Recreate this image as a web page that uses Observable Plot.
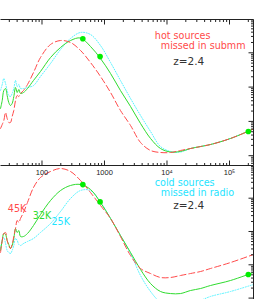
<!DOCTYPE html>
<html><head><meta charset="utf-8">
<script src="https://cdn.jsdelivr.net/npm/d3@7"></script>
<script src="https://cdn.jsdelivr.net/npm/@observablehq/plot@0.6"></script>
<style>
html,body{margin:0;padding:0;background:#fff;}
#wrap{position:relative;width:272px;height:299px;overflow:hidden;background:#fff;}
#wrap svg{position:absolute;left:0;}
</style></head><body><div id="wrap"></div>
<script>
// observed wavelength (micron)
const wavelength = [21.7, 23.1, 24.5, 26.1, 27.7, 29.4, 31.3, 33.3, 35.4, 37.7, 40.1, 42.6, 45.3, 50.6, 58.6, 73.1, 94.6, 137, 198, 286, 413, 597, 863, 1250, 1800, 2610, 3770, 5450, 7870, 11400, 16400, 23800, 34400, 49700, 104000, 242000];
// top panel: flux density (mJy)
const topHot45 = [0.0621, 0.0813, 0.106, 0.182, 0.122, 0.0929, 0.0929, 0.139, 0.208, 0.407, 0.569, 0.532, 0.651, 0.796, 1.19, 2.66, 7.29, 17.5, 22.8, 20.0, 11.7, 5.21, 2.04, 0.696, 0.208, 0.0760, 0.0243, 0.0142, 0.0124, 0.0124, 0.0142, 0.0162, 0.0185, 0.0212, 0.0318, 0.0601];
const topMid32 = [0.238, 0.407, 0.796, 0.910, 0.569, 0.356, 0.291, 0.333, 0.532, 0.973, 0.696, 0.851, 0.651, 0.696, 0.910, 1.56, 2.85, 7.29, 14.3, 22.8, 27.0, 15.3, 6.82, 2.49, 0.796, 0.272, 0.0869, 0.0318, 0.0162, 0.0128, 0.0133, 0.0162, 0.0185, 0.0212, 0.0318, 0.0601];
const topCold25 = [0.796, 1.19, 1.78, 1.27, 0.796, 0.569, 0.532, 0.651, 0.910, 1.56, 1.04, 1.19, 0.910, 0.910, 0.973, 1.11, 2.04, 4.88, 12.5, 26.1, 39.1, 34.1, 16.3, 5.21, 1.56, 0.465, 0.149, 0.0508, 0.0185, 0.0133, 0.0128, 0.0162, 0.0185, 0.0212, 0.0318, 0.0601];
// bottom panel: flux density (mJy)
const botHot45 = [0.234, 0.537, 0.871, 0.933, 0.537, 0.380, 0.309, 0.407, 0.708, 1.23, 2.14, 1.86, 2.46, 3.72, 7.43, 20.9, 41.8, 63.4, 78.0, 63.4, 34.0, 14.8, 6.04, 2.46, 0.708, 0.190, 0.0774, 0.0548, 0.0416, 0.0416, 0.0477, 0.0548, 0.0629, 0.0774, 0.117, 0.204];
const botMid32 = [0.269, 0.537, 0.871, 0.813, 0.537, 0.407, 0.309, 0.380, 0.617, 1.23, 0.933, 1.07, 0.708, 0.708, 0.871, 1.51, 3.24, 8.53, 17.0, 24.1, 25.8, 18.3, 7.43, 2.46, 0.759, 0.234, 0.0722, 0.0274, 0.0158, 0.0137, 0.0137, 0.0169, 0.0194, 0.0239, 0.0338, 0.0587];
const botCold25 = [0.309, 0.537, 0.661, 0.436, 0.269, 0.234, 0.218, 0.269, 0.380, 0.617, 0.537, 0.407, 0.380, 0.436, 0.501, 0.617, 0.933, 1.74, 3.99, 9.79, 17.0, 17.0, 7.6, 2.46, 0.759, 0.218, 0.0477, 0.0158, 0.00738, 0.00522, 0.00522, 0.00643, 0.00847, 0.0112, 0.0158, 0.0256];
// observed photometry (450um, 850um, 20cm)
const obsLambda = [450, 850, 200000];
const obsFlux = [25.6, 7.75, 0.051];
// axis ticks
const xTickValues = [100, 1000, 10000, 100000];
const xTickLabels = ["100", "1000", "10⁴", "10⁵"];
const yDecades = [0.001, 0.01, 0.1, 1, 10, 100];
// annotations
const topNoteText = ["hot sources", "missed in submm", "z=2.4"];
const topNoteLambda = [6380, 7960, 12600];
const topNoteFlux = [30.5, 15.6, 5.57];
const botNoteText = ["cold sources", "missed in radio", "z=2.4", "45K", "32K", "25K"];
const botNoteLambda = [6380, 7960, 12600, 28.4, 71.3, 142];
const botNoteFlux = [29.0, 14.5, 6.04, 4.81, 3.02, 2.0];

const RED = "#ff4a4a", GREEN = "#2fdc2f", CYAN = "#55f4ff", CYANTXT = "#1ee4ff", INK = "#222";
const topNoteColor = [RED, RED, "#333"];
const botNoteColor = [CYANTXT, CYANTXT, "#333", RED, GREEN, CYANTXT];

const xDomain = [21.68, 242100];
const XR = 253;

function ticksIn(domain, decades) {
  const major = [], minor = [];
  for (const d of decades) for (let k = 1; k <= 9; k++) {
    const v = d * k;
    if (v >= domain[0] && v <= domain[1]) (k === 1 ? major : minor).push(v);
  }
  return {major, minor};
}

function makePanel(o) {
  const [x0, x1] = xDomain, [y0, y1] = o.yDomain;
  const plotH = o.height - o.marginTop - o.marginBottom;
  const fy = Math.pow(y1 / y0, 1 / plotH);
  const fx = Math.pow(x1 / x0, 1 / XR);
  const segs = [];
  segs.push({x1: x1, y1: y1, x2: x1, y2: y0});
  const xt = ticksIn(xDomain, [10, 100, 1000, 1e4, 1e5]);
  const yt = ticksIn(o.yDomain, yDecades);
  if (o.frameTop) {
    segs.push({x1: x0, y1: y1, x2: x1, y2: y1});
    for (const t of xt.major) segs.push({x1: t, y1: y1, x2: t, y2: y1 / Math.pow(fy, 5)});
    for (const t of xt.minor) segs.push({x1: t, y1: y1, x2: t, y2: y1 / Math.pow(fy, 2.5)});
  }
  if (o.frameBottom) {
    segs.push({x1: x0, y1: y0, x2: x1, y2: y0});
    for (const t of xt.major) segs.push({x1: t, y1: y0, x2: t, y2: y0 * Math.pow(fy, 5)});
    for (const t of xt.minor) segs.push({x1: t, y1: y0, x2: t, y2: y0 * Math.pow(fy, 2.5)});
  }
  for (const t of yt.major) segs.push({x1: x1, y1: t, x2: x1 / Math.pow(fx, 5), y2: t});
  for (const t of yt.minor) segs.push({x1: x1, y1: t, x2: x1 / Math.pow(fx, 2.5), y2: t});

  const rows = wavelength.map((w, i) => ({w, hot: o.hot[i], mid: o.mid[i], cold: o.cold[i]}));
  const dots = obsLambda.map((w, i) => ({w, f: obsFlux[i]}));
  const notes = o.noteText.map((t, i) => ({t, w: o.noteLambda[i], f: o.noteFlux[i], c: o.noteColor[i]}));
  const marks = [
    Plot.line(rows, {x: "w", y: "cold", stroke: CYAN, strokeWidth: 1, strokeDasharray: "1,1.6", curve: "catmull-rom"}),
    Plot.line(rows, {x: "w", y: "mid", stroke: GREEN, strokeWidth: 1, curve: "catmull-rom"}),
    Plot.line(rows, {x: "w", y: "hot", stroke: RED, strokeWidth: 1, strokeDasharray: "6,3", curve: "catmull-rom"}),
    Plot.link(segs, {x1: "x1", y1: "y1", x2: "x2", y2: "y2", stroke: INK, strokeWidth: 1}),
    Plot.dot(dots, {x: "w", y: "f", r: 2.8, fill: "#00ee00", stroke: "none"}),
    Plot.text(notes.filter(d => d.t.startsWith("z")), {x: "w", y: "f", text: "t", fill: "c", textAnchor: "start", fontSize: 10.5, fontFamily: "DejaVu Sans"}),
    Plot.text(notes.filter(d => !d.t.startsWith("z")), {x: "w", y: "f", text: "t", fill: "c", textAnchor: "start", fontSize: 9.6, fontFamily: "DejaVu Sans"})
  ];
  if (o.tickLabels) {
    const lab = xTickValues.map((v, i) => ({v, y: y1, s: xTickLabels[i]}));
    marks.push(Plot.text(lab, {x: "v", y: "y", text: "s", dy: 7, fill: INK, fontSize: 7.5, fontFamily: "Liberation Sans"}));
  }
  const svg = Plot.plot({
    width: 272, height: o.height,
    marginTop: o.marginTop, marginBottom: o.marginBottom, marginLeft: 0, marginRight: 272 - XR,
    x: {type: "log", domain: xDomain, axis: null},
    y: {type: "log", domain: o.yDomain, axis: null},
    style: {background: "transparent", overflow: "visible", fontFamily: "DejaVu Sans"},
    marks
  });
  svg.style.top = o.top + "px";
  return svg;
}

const wrap = document.getElementById("wrap");
wrap.appendChild(makePanel({
  top: 0, height: 168, marginTop: 19, marginBottom: 3,
  yDomain: [0.005179, 93.5], frameTop: true, frameBottom: true,
  hot: topHot45, mid: topMid32, cold: topCold25,
  noteText: topNoteText, noteLambda: topNoteLambda, noteFlux: topNoteFlux, noteColor: topNoteColor
}));
wrap.appendChild(makePanel({
  top: 162, height: 137, marginTop: 3, marginBottom: 0,
  yDomain: [0.00908, 95.9], frameTop: false, frameBottom: false, tickLabels: true,
  hot: botHot45, mid: botMid32, cold: botCold25,
  noteText: botNoteText, noteLambda: botNoteLambda, noteFlux: botNoteFlux, noteColor: botNoteColor
}));
</script></body></html>
